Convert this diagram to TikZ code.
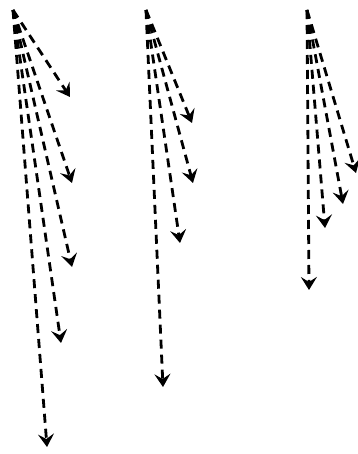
\documentclass[tikz,border=0pt]{standalone}
\usetikzlibrary{arrows.meta}

\tikzset{fanarrow/.style={line width=2.8pt, dash pattern=on 9pt off 6pt,
    -{Stealth[length=13pt,width=16pt,inset=5pt]}}}

\begin{document}
\begin{tikzpicture}[x=1pt,y=-1pt]
        \useasboundingbox (0,0) rectangle (357,454);

        % First fan
        \coordinate (O1) at (13,10);
        \foreach \n/\x/\y in {a/70/97, b/72/183, c/72/267, d/61/343, e/47/447} {
            \coordinate (O1\n) at (\x,\y);
            \draw[fanarrow] (O1) -- (O1\n);
        }

        % Second fan
        \coordinate (O2) at (146,10);
        \foreach \n/\x/\y in {a/192/123, b/193/183, c/180/243, d/163/387} {
            \coordinate (O2\n) at (\x,\y);
            \draw[fanarrow] (O2) -- (O2\n);
        }

        % Third fan
        \coordinate (O3) at (307,10);
        \foreach \n/\x/\y in {a/356/173, b/343/204, c/325/228, d/309/290} {
            \coordinate (O3\n) at (\x,\y);
            \draw[fanarrow] (O3) -- (O3\n);
        }
    \end{tikzpicture}
\end{document}
